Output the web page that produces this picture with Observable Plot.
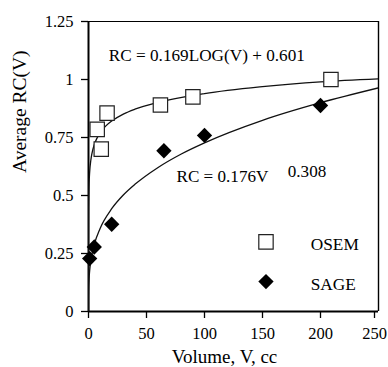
<!DOCTYPE html>
<html><head><meta charset="utf-8">
<script src="https://cdn.jsdelivr.net/npm/d3@7"></script>
<script src="https://cdn.jsdelivr.net/npm/@observablehq/plot@0.6"></script>
<style>
body{margin:0;background:#fff}
</style>
</head><body><div id="chart"></div>
<script>
// Measured points
const osemVolume = [7.5, 11, 16, 62, 90, 209];
const osemRC = [0.785, 0.70, 0.855, 0.89, 0.925, 1.0];
const sageVolume = [1, 5, 20, 65, 100, 200];
const sageRC = [0.228, 0.278, 0.376, 0.693, 0.759, 0.888];
// Fitted curves
const osemFitVolume = [0.0003, 0.01, 0.1, 0.5, 1, 2, 3, 5, 7, 10, 15, 20, 30, 40, 60, 100, 150, 200, 250];
const osemFitRC = [0.006, 0.263, 0.432, 0.550, 0.601, 0.652, 0.682, 0.719, 0.744, 0.770, 0.800, 0.821, 0.851, 0.872, 0.901, 0.939, 0.969, 0.990, 1.003];
const sageFitVolume = [0, 0.01, 0.1, 0.5, 1, 2, 5, 10, 20, 30, 40, 60, 80, 100, 150, 200, 250];
const sageFitRC = [0, 0.043, 0.087, 0.142, 0.176, 0.218, 0.289, 0.358, 0.443, 0.502, 0.548, 0.621, 0.679, 0.727, 0.824, 0.900, 0.964];
const xTicks = [0, 50, 100, 150, 200];
const xLastTick = [250];
const yTicks = [0, 0.25, 0.5, 0.75, 1, 1.25];
const seriesNames = ["OSEM", "SAGE"];
const xLabel = "Volume, V, cc";
const yLabel = "Average RC(V)";
const osemEquation = "RC = 0.169LOG(V) + 0.601";
const sageEquation = "RC = 0.176V";
const sageExponent = "0.308";

const osem = osemVolume.map((v, i) => ({v, rc: osemRC[i]}));
const sage = sageVolume.map((v, i) => ({v, rc: sageRC[i]}));
const osemFit = osemFitVolume.map((v, i) => ({v, rc: osemFitRC[i]}));
const sageFit = sageFitVolume.map((v, i) => ({v, rc: sageFitRC[i]}));

const tickFont = 16.5;
const chart = Plot.plot({
  width: 388,
  height: 367,
  marginLeft: 88,
  marginRight: 10,
  marginTop: 21,
  marginBottom: 56,
  style: {fontFamily: "'Liberation Serif', 'Times New Roman', serif", fontSize: "17px", color: "#000", background: "#fff", overflow: "visible"},
  x: {domain: [0, 250]},
  y: {domain: [0, 1.25]},
  marks: [
    Plot.axisX(xTicks, {tickSize: 7, tickPadding: 9, tickFormat: d => String(d), fontSize: tickFont, strokeWidth: 1.3, label: null}),
    Plot.axisX(xLastTick, {tickSize: 7, tickPadding: 9, tickFormat: d => String(d), fontSize: tickFont, strokeWidth: 1.3, label: null, dx: -4}),
    Plot.axisY(yTicks, {tickSize: 7, tickPadding: 8, tickFormat: d => String(d), fontSize: tickFont, strokeWidth: 1.3, label: null}),
    Plot.text([xLabel], {frameAnchor: "bottom", text: d => d, lineAnchor: "bottom", dx: -9, dy: 51, fontSize: 19}),
    Plot.text([yLabel], {frameAnchor: "left", text: d => d, rotate: -90, lineAnchor: "bottom", dx: -63, dy: 6.5, fontSize: 19.5}),
    Plot.ruleY([1.25], {stroke: "#000", strokeWidth: 1.2}),
    Plot.ruleX([250], {stroke: "#000", strokeWidth: 1.4}),
    Plot.ruleX([0], {stroke: "#000", strokeWidth: 2}),
    Plot.ruleY([0], {stroke: "#000", strokeWidth: 2}),
    Plot.line(osemFit, {x: "v", y: "rc", curve: "monotone-x", stroke: "#111", strokeWidth: 1.3, clip: true}),
    Plot.line(sageFit, {x: "v", y: "rc", curve: "monotone-x", stroke: "#111", strokeWidth: 1.3, clip: true}),
    Plot.dot(osem, {x: "v", y: "rc", symbol: "square", r: 8.1, stroke: "#222", strokeWidth: 1.2, fill: "#fff"}),
    Plot.dot(sage, {x: "v", y: "rc", symbol: "diamond2", r: 6.9, fill: "#000", stroke: "none"}),
    Plot.text([osemEquation], {x: 17.5, y: 1.105, text: d => d, textAnchor: "start", fontSize: 17.2}),
    Plot.text([sageEquation], {x: 75.9, y: 0.581, text: d => d, textAnchor: "start", fontSize: 17.1}),
    Plot.text([sageExponent], {x: 171.8, y: 0.603, text: d => d, textAnchor: "start", fontSize: 17.1}),
    Plot.dot([seriesNames[0]], {x: 153.0, y: 0.300, symbol: "square", r: 8.1, stroke: "#222", strokeWidth: 1.2, fill: "#fff"}),
    Plot.dot([seriesNames[1]], {x: 153.0, y: 0.129, symbol: "diamond2", r: 6.9, fill: "#000", stroke: "none"}),
    Plot.text([seriesNames[0]], {x: 191.6, y: 0.287, text: d => d, textAnchor: "start", fontSize: 17.3}),
    Plot.text([seriesNames[1]], {x: 191.6, y: 0.115, text: d => d, textAnchor: "start", fontSize: 17.3})
  ]
});
// make sure the axis tick labels use the reference's larger size
chart.querySelectorAll('[aria-label*="tick label"]').forEach(g => {
  g.setAttribute("font-size", tickFont);
  g.style.fontSize = tickFont + "px";
  g.querySelectorAll("text").forEach(t => { t.style.fontSize = tickFont + "px"; });
});
document.getElementById("chart").append(chart);
</script>
</body></html>
